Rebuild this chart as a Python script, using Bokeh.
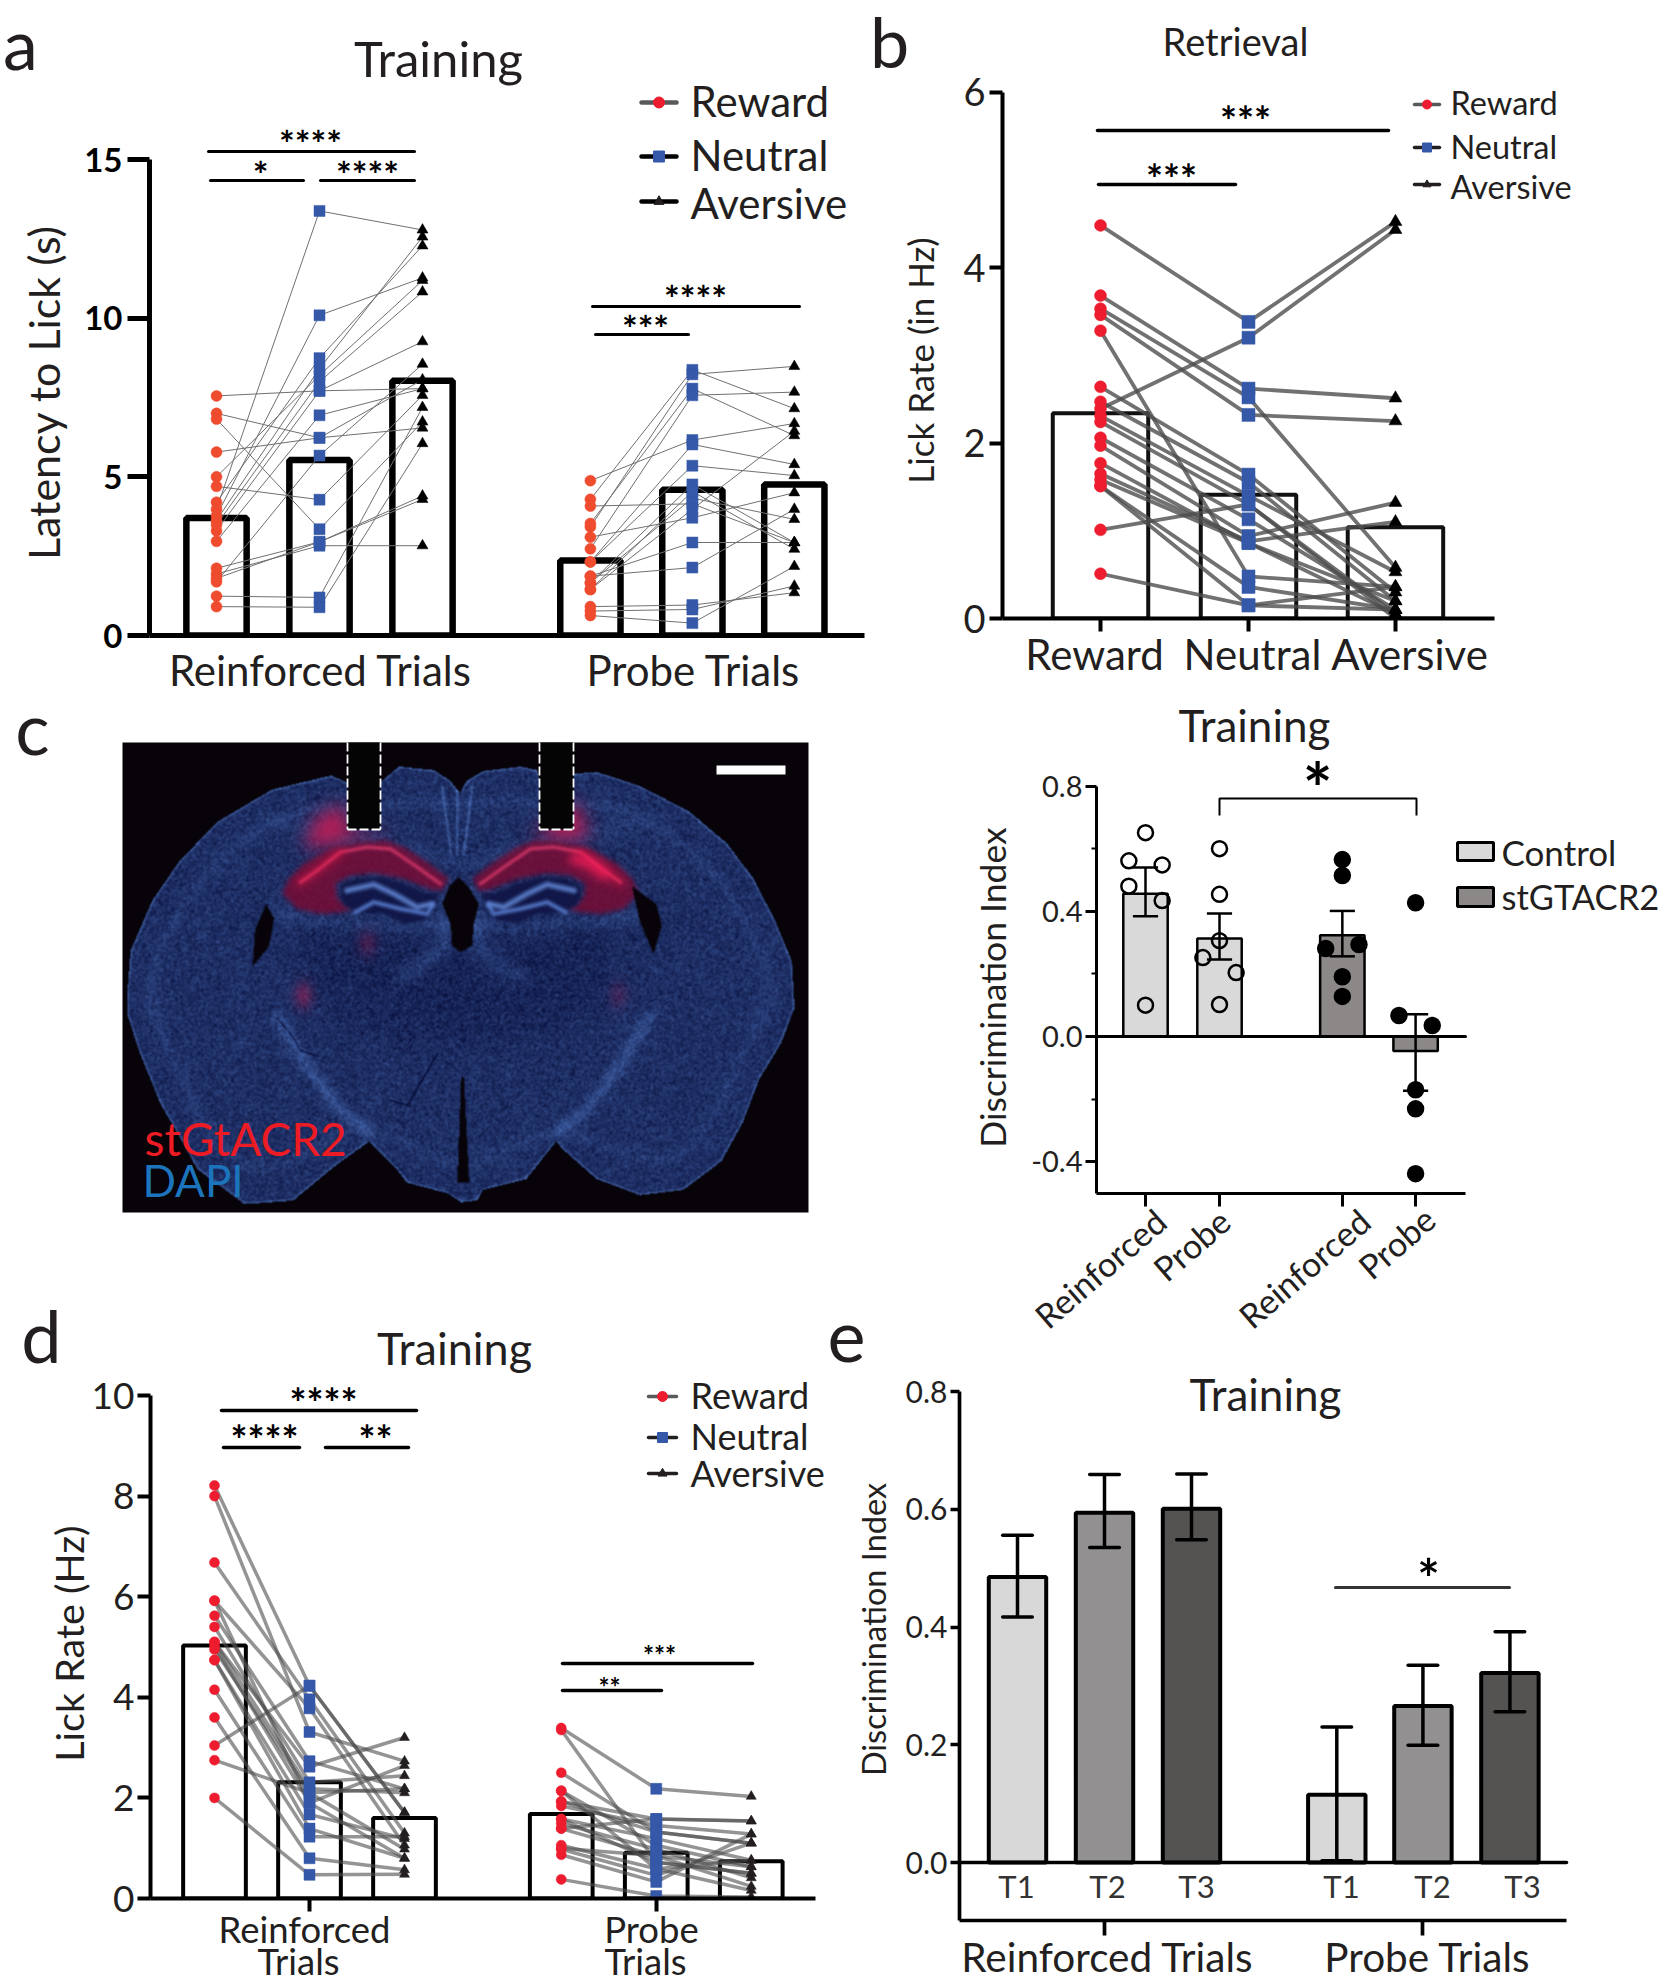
import numpy as np
from bokeh.plotting import figure
from bokeh.layouts import row, column
from bokeh.models import Range1d, Label, FixedTicker, NumeralTickFormatter, CustomJSTickFormatter
from bokeh.embed import file_html
from bokeh.resources import INLINE

FONT = "Lato"
INK = "#231f20"

# ---------- panel a: latency to lick
a_reinf_reward = [7.55,7.0,6.82,5.78,5.0,4.7,4.2,3.98,3.77,3.63,3.49,3.3,2.97,2.12,1.94,1.8,1.69,1.24,0.91]
a_reinf_neutral = [7.71,6.23,3.35,6.23,8.2,4.28,8.74,13.38,10.09,8.41,8.0,7.71,6.94,2.95,2.83,2.95,5.67,1.2,0.89]
a_reinf_aversive = [7.78,8.06,6.73,6.54,11.19,7.57,12.28,12.78,11.27,12.56,10.83,9.26,7.78,4.4,2.83,4.29,8.55,7.19,6.05]
a_probe_reward = [4.88,4.29,4.08,3.53,3.42,3.1,2.73,2.32,1.87,1.66,1.66,1.45,1.45,0.91,0.77,0.63,1.87,2.32]
a_probe_neutral = [6.16,8.37,4.15,7.78,8.23,3.71,7.57,6.02,2.14,4.76,4.33,4.54,3.98,0.96,0.82,0.39,2.93,5.35]
a_probe_aversive = [6.68,7.15,2.93,6.3,8.48,4.5,7.67,5.39,3.98,2.93,3.66,2.72,6.44,1.35,1.56,2.18,2.93,5.04]
a_means = [3.7,5.53,8.03,2.36,4.59,4.76]
a_ticks = [0,5,10,15]

# ---------- panel b: retrieval
b_reward = [4.48,3.68,3.53,3.46,3.28,2.64,2.47,2.39,2.31,2.24,2.06,1.97,1.77,1.65,1.58,1.51,1.51,1.01,0.51]
b_neutral = [3.38,2.62,2.52,2.32,0.48,1.64,1.55,3.2,1.4,1.3,1.13,0.94,0.86,0.88,0.86,0.36,0.15,1.3,0.15]
b_aversive = [4.52,2.51,0.58,2.25,0.36,0.3,0.2,4.43,0.53,0.05,0.1,1.32,0.05,1.1,0.2,0.1,0.36,0.0,0.1]
b_means = [2.34,1.41,1.04]
b_ticks = [0,2,4,6]
b_categories = ["Reward","Neutral","Aversive"]

# ---------- panel c (right): discrimination index
di_means = [0.456,0.313,0.323,-0.046]
di_err_hi = [0.54,0.393,0.401,0.071]
di_err_lo = [0.384,0.246,0.256,-0.173]
di_pts_1 = [0.651,0.561,0.548,0.48,0.434,0.10]
di_pts_2 = [0.60,0.454,0.306,0.252,0.204,0.102]
di_pts_3 = [0.565,0.514,0.281,0.294,0.191,0.128]
di_pts_4 = [0.427,0.067,0.035,-0.17,-0.231,-0.438]
di_off_1 = [0,-1,1,-1,1,0]
di_off_2 = [0,0,0,-1,1,0]
di_off_3 = [0,0,-1,1,0,0]
di_off_4 = [0,-1,1,0,0,0]
di_categories = ["Reinforced","Probe","Reinforced","Probe"]

# ---------- panel d: lick rate, training
d_reinf_reward = [8.21,8.0,6.68,5.92,5.62,5.4,5.1,5.02,4.95,4.74,4.74,4.15,3.6,3.04,2.75,2.0,5.1,5.92]
d_reinf_neutral = [4.23,3.31,3.96,3.78,2.73,2.31,2.18,1.9,2.1,1.67,1.39,1.23,0.8,4.23,2.1,0.47,2.62,1.9]
d_reinf_aversive = [1.71,2.73,1.3,1.06,2.18,2.44,2.1,2.64,0.98,1.19,0.8,1.23,0.57,1.71,2.18,0.48,3.2,0.8]
d_probe_reward = [3.39,3.35,2.5,2.14,1.93,1.84,1.58,1.49,1.39,1.06,0.98,0.87,0.38,1.58,2.14,1.93,1.0,1.39]
d_probe_neutral = [2.18,0.72,1.32,1.06,1.58,1.45,1.19,0.98,0.85,0.59,0.46,0.33,0.05,0.72,0.59,1.32,0.85,1.58]
d_probe_aversive = [2.03,0.5,1.1,0.63,1.54,1.28,0.76,0.41,0.24,0.16,1.1,1.28,0.03,0.5,0.76,1.1,0.63,1.54]
d_means = [5.03,2.31,1.6,1.68,0.91,0.74]
d_ticks = [0,2,4,6,8,10]

# ---------- panel e
e_means = [0.485,0.594,0.601,0.115,0.266,0.322]
e_err_hi = [0.556,0.659,0.66,0.23,0.335,0.392]
e_err_lo = [0.417,0.535,0.548,0.003,0.199,0.256]
e_trials = ["T1","T2","T3","T1","T2","T3"]
e_ticks = [0,0.2,0.4,0.6,0.8]

# ---------- section illustration, outlines
BRAIN_U = [848,860,890,960,990,1000,1060,1100,1180,1270,1340,1390,1430,1460,1465,1440,1400,1370,1330,1260,1180,1100,1040,1025,970,890,880,850,825,750,730,680,620,540,450,363,330,295,258,235,235,240,280,330,400,500,610,640,700,735,800,830]
BRAIN_V = [260,225,198,185,195,250,205,200,240,310,400,500,620,730,860,960,1060,1180,1290,1370,1385,1340,1260,1235,1340,1370,1400,1405,1380,1350,1310,1235,1300,1400,1410,1312,1220,1129,990,885,800,700,560,450,340,250,210,230,230,185,195,225]
LV_L_U = [490,470,465,495,505]
LV_L_V = [570,640,745,690,610]
LV_R_U = [1165,1180,1205,1220,1210]
LV_R_V = [520,620,710,630,570]
FISS_U = [850,843,865,855]
FISS_V = [1050,1350,1350,1055]
THAL_U = [570,650,760,850,960,1080,1130,1140,1060,950,850,720,610,560]
THAL_V = [640,610,640,700,640,600,660,800,900,950,950,950,880,760]
# hippocampal traces, left side; the right side is its mirror image
HIP_U = [65,85,130,210,300,380,430,500,565,545,520,430,340,270,225,230,250,280,240,180,110]
HIP_V = [340,295,250,205,185,180,200,245,295,330,330,295,278,285,310,350,375,385,395,400,385]
HILUS_U = [240,285,360,430,500,535,520,490,430,370,290,255,240]
HILUS_V = [315,295,290,310,340,340,385,420,430,400,395,375,345]
ARC_U = [120,170,240,320,390,470,540]
ARC_V = [305,270,215,200,205,260,310]
DG1_U = [260,340,400,470,515]
DG1_V = [330,312,340,380,370]
DG2_U = [285,340,420,500,515]
DG2_V = [395,365,385,400,375]
VENT_U = [595,565,545,570,575,600,635,640,655,625]
VENT_V = [290,320,370,430,495,515,495,430,370,320]
GLOW_L_U = [130,170,250,260,400,300,170]
GLOW_L_V = [200,110,70,150,155,170,200]
GLOW_R_U = [800,840,945,985,900]
GLOW_R_V = [150,150,60,170,180]
STRIPE_X = [277,310,340,367]
STRIPE_Y = [1017,1070,1110,1130]
CRACK_X = [277,293,300,318]
CRACK_Y = [1018,1037,1050,1056]
CRACK2_X = [390,407,437]
CRACK2_Y = [1100,1105,1053]
SPOT_X = [367,303,618]
SPOT_Y = [943,995,995]
SPOT_A = [0.25,0.4,0.2]


def section_image():
    yy, xx = np.mgrid[742:1212, 122:808] + 0.5

    def poly(px, py):
        px, py = np.asarray(px, float), np.asarray(py, float)
        inside = np.zeros(xx.shape, bool)
        for i in range(len(px)):
            x1, y1, x2, y2 = px[i], py[i], px[i - 1], py[i - 1]
            if y1 == y2:
                continue
            hit = ((y1 > yy) != (y2 > yy)) & (xx < (x2 - x1) * (yy - y1) / (y2 - y1) + x1)
            inside ^= hit
        return inside.astype(float)

    def stroke(px, py, w):
        best = np.full(xx.shape, 1e9)
        for i in range(len(px) - 1):
            dx, dy = px[i + 1] - px[i], py[i + 1] - py[i]
            t = np.clip(((xx - px[i]) * dx + (yy - py[i]) * dy) / (dx * dx + dy * dy), 0, 1)
            best = np.minimum(best, np.hypot(xx - px[i] - t * dx, yy - py[i] - t * dy))
        return np.clip(1 - best / w, 0, 1)

    fy = np.fft.fftfreq(xx.shape[0])[:, None]
    fx = np.fft.rfftfreq(xx.shape[1])[None, :]

    def blur(a, s):
        return np.fft.irfft2(np.fft.rfft2(a) * np.exp(-2 * (np.pi * s) ** 2 * (fx ** 2 + fy ** 2)), s=a.shape)

    z3x = lambda v: [u / 1.845 for u in v]
    z3y = lambda v: [700 + u / 2.8 for u in v]
    z1x = lambda v: [260 + u / 3 for u in v]
    z1y = lambda v: [780 + u / 3 for u in v]
    mir = lambda v: [1200 - u for u in v]

    brain = poly(z3x(BRAIN_U), z3y(BRAIN_V))
    grain = np.modf(np.abs(np.sin(xx * 12.9898 + yy * 78.233) * 43758.5453))[0]
    grain = blur(grain, 0.8)
    grain = (grain - grain.mean()) / grain.std()

    v = 0.20 + 0.055 * grain
    wide = blur(brain, 30)
    v += 0.07 * np.exp(-((wide - 0.82) / 0.05) ** 2)
    v += 0.5 * brain * np.clip(1 - blur(brain, 2.5) * 1.15, 0, 1) * 2
    v -= 0.08 * blur(poly(z3x(THAL_U), z3y(THAL_V)), 18)
    for sx in (STRIPE_X, [926 - x for x in STRIPE_X]):
        v += 0.28 * blur(stroke(sx, STRIPE_Y, 9), 3)
    v += 0.22 * blur(stroke(z1x([575, 545, 480, 420]), z1y([345, 500, 560, 590]), 10), 5)
    v += 0.22 * blur(stroke(z1x([625, 655, 720, 780]), z1y([345, 500, 560, 590]), 10), 5)
    for cx, cy in ((CRACK_X, CRACK_Y), (CRACK2_X, CRACK2_Y)):
        v -= 0.3 * stroke(cx, cy, 1.6)
    for ux in ([590, 590], [545, 572], [635, 610]):
        v += 0.3 * stroke(z1x(ux), z1y([20, 220]), 2.5)
    for sign in (0, 1):
        f = mir if sign else (lambda q: q)
        v += 0.16 * blur(stroke(z1x(f([40, 150, 300, 480, 560])), z1y([400, 420, 430, 440, 430]), 8), 4)
    v += 0.12 * blur(stroke(z1x([0, 250, 480, 600, 720, 950, 1200]), z1y([110, 170, 215, 250, 215, 170, 110]), 7), 5)

    v = np.clip(v, 0, 1)
    dark = np.array([12, 20, 66.0])
    bright = np.array([104, 155, 240.0])
    img = dark + v[..., None] * (bright - dark)

    def tint(alpha, color):
        nonlocal img
        a = np.clip(alpha, 0, 1)[..., None]
        img = img * (1 - a) + np.array(color, float) * a

    for gu, gv in ((GLOW_L_U, GLOW_L_V), (GLOW_R_U, GLOW_R_V)):
        tint(0.95 * blur(poly(z1x(gu), z1y(gv)), 9), (195, 28, 85))
    for sx, sy, sa in zip(SPOT_X, SPOT_Y, SPOT_A):
        tint(sa * np.exp(-((xx - sx) ** 2 + ((yy - sy) / 1.4) ** 2) / 90), (205, 30, 80))
    for f in ((lambda q: q), mir):
        tint(0.8 * blur(poly(z1x(f(HIP_U)), z1y(HIP_V)), 2.5), (125, 10, 50))
        tint(0.85 * blur(poly(z1x(f(HILUS_U)), z1y(HILUS_V)), 1.5), (15, 20, 68))
        tint(0.7 * blur(stroke(z1x(f(ARC_U)), z1y(ARC_V), 3), 1), (255, 70, 120))
        tint(0.5 * blur(stroke(z1x(f(ARC_U[:3])), z1y(ARC_V[:3]), 8), 3.5), (240, 20, 70))
        tint(0.85 * blur(stroke(z1x(f(DG1_U)), z1y(DG1_V), 5), 0.8), (105, 145, 225))
        tint(0.85 * blur(stroke(z1x(f(DG2_U)), z1y(DG2_V), 4), 0.8), (95, 135, 220))
    tint(0.9 * blur(stroke(z1x([945, 990, 1030]), z1y([235, 250, 280]), 10), 4), (250, 30, 90))

    holes = (poly(z1x(VENT_U), z1y(VENT_V)) + poly(z3x(LV_L_U), z3y(LV_L_V))
             + poly(z3x(LV_R_U), z3y(LV_R_V)) + poly(z3x(FISS_U), z3y(FISS_V)))
    outside = 1 - blur(brain, 0.7) * (1 - blur(np.clip(holes, 0, 1), 0.7))
    tint(outside, (7, 3, 9))

    out = np.zeros(xx.shape, dtype=np.uint32)
    view = out.view(np.uint8).reshape(xx.shape + (4,))
    view[..., :3] = np.clip(img, 0, 255).astype(np.uint8)
    view[..., 3] = 255
    return out


# Text layer: one transparent figure over the whole page, in page pixels
overlay = figure(width=1658, height=1980, output_backend="svg", toolbar_location=None,
                 x_range=Range1d(0, 1658), y_range=Range1d(1980, 0),
                 x_axis_type=None, y_axis_type=None, outline_line_color=None,
                 min_border_left=0, min_border_right=0, min_border_top=0, min_border_bottom=0,
                 background_fill_color=None, border_fill_color=None, frame_align=False,
                 styles={"position": "absolute", "left": "0px", "top": "0px"})
overlay.grid.visible = False


class Panel:
    def __init__(self, box, frame, xmap, ymap):
        x0, y0, x1, y1 = box
        fl, ft, fr, fb = frame
        self.xm, self.ym = xmap, ymap
        self.fig = figure(
            width=x1 - x0, height=y1 - y0, output_backend="svg", toolbar_location=None,
            x_range=Range1d(self.X(fl), self.X(fr)), y_range=Range1d(self.Y(fb), self.Y(ft)),
            min_border_left=fl - x0, min_border_right=x1 - fr,
            min_border_top=ft - y0, min_border_bottom=y1 - fb,
            outline_line_color=None, frame_align=False,
        )
        self.fig.grid.visible = False

    def X(self, px):
        a, va, b, vb = self.xm
        return va + (px - a) * (vb - va) / (b - a)

    def Y(self, py):
        a, va, b, vb = self.ym
        return va + (py - a) * (vb - va) / (b - a)

    def text(self, px, py, t, size, color=INK, align="center", base="middle", style="normal", angle=0):
        if base == "middle" and angle == 0:
            py -= 2
        if angle == 90:
            px -= 2
        overlay.add_layout(Label(
            x=px, y=py, text=t, text_font=FONT, text_font_size=f"{size}px",
            text_color=color, text_align=align, text_baseline=base, text_font_style=style,
            angle=angle, angle_units="deg"))

    def hline(self, x0, x1, py, width=3, color="black"):
        self.fig.line([self.X(x0), self.X(x1)], [self.Y(py), self.Y(py)], line_color=color,
                      line_width=width, line_cap="round")

    def stars(self, px, py, t, size):
        self.text(px, py + 2 + 0.17 * size, t, size, color="black", style="bold")

    def legend(self, lx0, lx1, py, lc, lw, marker, mc, ms, label, tx, fs, dy=0):
        self.hline(lx0, lx1, py, width=lw, color=lc)
        self.fig.scatter([self.X((lx0 + lx1) / 2)], [self.Y(py)], marker=marker, size=ms,
                         fill_color=mc, line_color=mc)
        self.text(tx, py + dy, label, fs, align="left")


def style_axes(p, lw, tick_len, fs, yticks, y_bounds, x_bounds, xticks=None, bold=False, fmt=None, minor=None, xtick_len=0, standoff=5):
    yax, xax = p.fig.yaxis[0], p.fig.xaxis[0]
    yax.ticker = FixedTicker(ticks=yticks, minor_ticks=minor or [])
    yax.bounds = y_bounds
    xax.bounds = x_bounds
    xax.ticker = FixedTicker(ticks=xticks or [], minor_ticks=[])
    xax.formatter = CustomJSTickFormatter(code="return ''")
    for ax in (xax, yax):
        ax.axis_line_width = lw
        ax.axis_line_color = "black"
        ax.major_tick_line_width = lw
        ax.major_tick_line_color = "black"
        ax.major_tick_in = 0
        ax.minor_tick_in = 0
        ax.minor_tick_line_width = max(lw - 1, 1)
        ax.minor_tick_line_color = "black"
    yax.major_tick_out = tick_len
    yax.minor_tick_out = 5 if minor else 0
    xax.major_tick_out = xtick_len
    xax.minor_tick_out = 0
    yax.major_label_text_font = FONT
    yax.major_label_text_font_size = f"{fs}px"
    yax.major_label_text_color = "black" if bold else INK
    yax.major_label_text_font_style = "bold" if bold else "normal"
    yax.major_label_standoff = standoff
    if fmt:
        yax.formatter = NumeralTickFormatter(format=fmt)


def paired(p, xs, series, lw, color, alpha):
    n = len(series[0])
    p.fig.multi_line([xs for _ in range(n)], [[s[i] for s in series] for i in range(n)],
                     line_width=lw, line_color=color, line_alpha=alpha)


def markers(p, xs, series, sizes, colors):
    kinds = ["circle", "square", "triangle"]
    for x, s, k, sz, c in zip(xs, series, kinds, sizes, colors):
        p.fig.scatter([x] * len(s), s, marker=k, size=sz, fill_color=c, line_color=c, line_width=0.5)


RED_O, RED, BLUE, BLK = "#EF4B2F", "#ED1C2E", "#3558A8", "#000000"

# ---------------- panel a
A = Panel((0, 0, 866, 700), (149, 0, 865, 635), (216, 1, 319, 2), (635, 0, 159, 15))
ax_pos = [1, 2, 3]
ax_pos2 = [4.63, 5.62, 6.61]
style_axes(A, 5, 22, 33, a_ticks, (0, 15), (A.X(149), A.X(864)), bold=True, standoff=5)
A.fig.vbar(ax_pos + ax_pos2, top=a_means, width=0.585, bottom=0, fill_color="white", line_color="black", line_width=6.5)
paired(A, ax_pos, [a_reinf_reward, a_reinf_neutral, a_reinf_aversive], 1, "#707070", 1)
paired(A, ax_pos2, [a_probe_reward, a_probe_neutral, a_probe_aversive], 1, "#707070", 1)
markers(A, ax_pos, [a_reinf_reward, a_reinf_neutral, a_reinf_aversive], (11, 11, 11), (RED_O, BLUE, BLK))
markers(A, ax_pos2, [a_probe_reward, a_probe_neutral, a_probe_aversive], (11, 11, 11), (RED_O, BLUE, BLK))
A.text(20, 42, "a", 70, base="alphabetic")
A.text(438, 59, "Training", 49)
A.text(320, 671, "Reinforced Trials", 42)
A.text(693, 671, "Probe Trials", 42)
A.text(45, 392, "Latency to Lick (s)", 43, angle=90)
A.legend(641, 676, 102, "#58595b", 4.5, "circle", RED, 11, "Reward", 690, 42)
A.legend(641, 676, 156, "black", 4.5, "square", BLUE, 11, "Neutral", 690, 42)
A.legend(641, 676, 201, "black", 4.5, "triangle", "#231f20", 10, "Aversive", 690, 42, dy=3)
for x0, x1, y in [(208, 414, 151), (210, 303, 180), (320, 414, 180), (592, 799, 306), (595, 688, 334)]:
    A.hline(x0, x1, y, 3)
for x, y, t in [(310, 136, "****"), (260, 167, "*"), (367, 167, "****"), (695, 291, "****"), (645, 321, "***")]:
    A.stars(x, y, t, 37)

# ---------------- panel b
B = Panel((866, 0, 1658, 690), (1002, 0, 1657, 618), (1100, 1, 1248, 2), (618, 0, 91.5, 6))
bx = [1, 2, 2.993]
style_axes(B, 4, 13, 38, b_ticks, (0, 6), (B.X(1002), B.X(1494)), xticks=bx, xtick_len=13, standoff=4)
B.fig.vbar(bx, top=b_means, width=0.645, bottom=0, fill_color="white", line_color="#111111", line_width=4)
paired(B, bx, [b_reward, b_neutral, b_aversive], 3.8, "#4d4d4d", 0.8)
markers(B, bx, [b_reward, b_neutral, b_aversive], (12, 13, 13), (RED, BLUE, BLK))
B.text(889, 40, "b", 70, base="alphabetic")
B.text(1235, 42, "Retrieval", 38)
for cx, lab in zip([1094, 1252, 1409], b_categories):
    B.text(cx, 655, lab, 42)
B.text(921, 360, "Lick Rate (in Hz)", 35, angle=90)
B.legend(1414, 1439, 104, "#58595b", 3.5, "circle", RED, 9, "Reward", 1450, 32.5)
B.legend(1414, 1439, 147, "#231f20", 3.5, "square", BLUE, 9, "Neutral", 1450, 32.5, dy=1)
B.legend(1414, 1439, 184, "#231f20", 3.5, "triangle", "#231f20", 8, "Aversive", 1450, 32.5, dy=4)
B.hline(1097, 1388, 130, 3.5)
B.hline(1098, 1235, 184, 3.5)
B.stars(1245, 114, "***", 40)
B.stars(1171, 172, "***", 40)

# ---------------- panel c, section image
C = Panel((0, 700, 866, 1290), (0, 700, 866, 1290), (0, 0, 866, 866), (700, 700, 1290, 1290))
C.fig.xaxis.visible = False
C.fig.yaxis.visible = False
C.fig.image_rgba(image=[section_image()], x=122, y=742, dw=686, dh=470)
for l, r in [(347, 380), (539, 573)]:
    C.fig.quad(left=[l], right=[r], top=[742], bottom=[829], fill_color="#040404", line_color=None)
    C.fig.multi_line([[l, l], [r, r], [l, r]], [[742, 829], [742, 829], [829, 829]], line_color="white", line_width=1.8, line_dash="9 3")
C.fig.quad(left=[716], right=[785], top=[765], bottom=[774], fill_color="white", line_color=None)
C.text(32, 726, "c", 72, base="alphabetic")
C.text(144, 1138, "stGtACR2", 46, color="#ED1C24", align="left", base="alphabetic")
C.text(142, 1179, "DAPI", 44, color="#1C75BC", align="left", base="alphabetic")

# ---------------- right-hand discrimination chart
G = Panel((866, 690, 1658, 1340), (1096, 690, 1657, 1193), (1145, 1, 1219, 2), (1036, 0, 785.5, 0.8))
gx = [1, 2, 3.66, 4.65]
style_axes(G, 3, 11, 29, [-0.4, 0, 0.4, 0.8], (G.Y(1193), 0.8), (G.X(1096), G.X(1465)), xticks=gx, xtick_len=13, fmt="0.0", minor=[-0.2, 0.2, 0.6], standoff=3)
G.fig.vbar(gx, top=di_means, width=0.6, bottom=0, fill_color=["#D9D9D9", "#D9D9D9", "#8C8888", "#8C8888"], line_color="black", line_width=2.5)
G.hline(1096, 1465, 1036, 3)
G.fig.segment(gx, di_err_lo, gx, di_err_hi, line_color="black", line_width=2.5)
capw = 0.17
G.fig.segment([x - capw for x in gx], di_err_hi, [x + capw for x in gx], di_err_hi, line_color="black", line_width=2.5)
G.fig.segment([x - capw for x in gx], di_err_lo, [x + capw for x in gx], di_err_lo, line_color="black", line_width=2.5)
shift = 0.225
for cx, pts, offs, fc in zip(gx, [di_pts_1, di_pts_2, di_pts_3, di_pts_4], [di_off_1, di_off_2, di_off_3, di_off_4], [None, None, "black", "black"]):
    G.fig.scatter([cx + o * shift for o in offs], pts, marker="circle", size=15, fill_color=fc, line_color="black", line_width=2.5)
G.text(1254, 726, "Training", 44)
G.text(994, 987, "Discrimination Index", 35.5, angle=90)
for px, py, lab in zip([1160, 1224, 1364, 1429], [1215, 1215, 1215, 1213], di_categories):
    G.text(px, py, lab, 34, align="right", angle=41)
G.fig.line([G.X(1219), G.X(1219), G.X(1416), G.X(1416)], [G.Y(815), G.Y(798), G.Y(798), G.Y(815)], line_color="black", line_width=2)
G.stars(1317, 776, "*", 70)
G.fig.quad(left=[G.X(1457)], right=[G.X(1493)], top=[G.Y(842)], bottom=[G.Y(860)], fill_color="#D9D9D9", line_color="black", line_width=3)
G.fig.quad(left=[G.X(1457)], right=[G.X(1493)], top=[G.Y(887)], bottom=[G.Y(906)], fill_color="#8C8888", line_color="black", line_width=3)
G.text(1501, 853, "Control", 35, align="left")
G.text(1501, 898, "stGTACR2", 34.5, align="left")

# ---------------- panel d
D = Panel((0, 1290, 866, 1980), (150, 1290, 865, 1898), (214, 1, 309, 2), (1898, 0, 1395, 10))
dx1 = [1, 2, 3]
dx2 = [4.65, 5.65, 6.65]
style_axes(D, 4, 13, 37, d_ticks, (0, 10), (D.X(150), D.X(815)), xticks=[2, 5.65], xtick_len=13, standoff=3)
D.fig.vbar(dx1 + dx2, top=d_means, width=0.66, bottom=0, fill_color="white", line_color="black", line_width=4)
paired(D, dx1, [d_reinf_reward, d_reinf_neutral, d_reinf_aversive], 3.5, "#4d4d4d", 0.6)
paired(D, dx2, [d_probe_reward, d_probe_neutral, d_probe_aversive], 3.5, "#4d4d4d", 0.6)
markers(D, dx1, [d_reinf_reward, d_reinf_neutral, d_reinf_aversive], (10, 11, 10), (RED, BLUE, "#231f20"))
markers(D, dx2, [d_probe_reward, d_probe_neutral, d_probe_aversive], (10, 11, 10), (RED, BLUE, "#231f20"))
D.text(41, 1334, "d", 72, base="alphabetic")
D.text(846, 1335, "e", 72, base="alphabetic")
D.text(454, 1349, "Training", 45)
D.text(304, 1930, "Reinforced", 36.5)
D.text(298, 1962, "Trials", 36.5)
D.text(651, 1930, "Probe", 36.5)
D.text(645, 1962, "Trials", 36.5)
D.text(70, 1643, "Lick Rate (Hz)", 39.5, angle=90)
D.legend(648, 676, 1396, "#58595b", 3.5, "circle", RED, 10, "Reward", 690, 36)
D.legend(648, 676, 1437, "#231f20", 3.5, "square", BLUE, 10, "Neutral", 690, 36)
D.legend(648, 676, 1473, "#231f20", 3.5, "triangle", "#231f20", 9, "Aversive", 690, 36, dy=1)
for x0, x1, y in [(221, 416, 1410), (223, 299, 1447), (325, 408, 1447), (562, 752, 1663), (562, 661, 1690)]:
    D.hline(x0, x1, y, 3.5)
for x, y, t, s in [(323, 1396, "****", 40), (264, 1433, "****", 40), (375, 1433, "**", 40), (659, 1650, "***", 26), (609, 1682, "**", 26)]:
    D.stars(x, y, t, s)

# ---------------- panel e
E = Panel((866, 1340, 1658, 1980), (959, 1340, 1657, 1920), (1017, 1, 1104, 2), (1862, 0, 1391, 0.8))
ex = [1, 2, 3, 4.67, 5.66, 6.66]
style_axes(E, 3.7, 9, 30, e_ticks, (E.Y(1920), 0.8), (E.X(959), E.X(1566)), xticks=[2, 5.66], xtick_len=15, fmt="0.0", standoff=3)
E.fig.vbar(ex, top=e_means, width=0.66, bottom=0, fill_color=["#D9D8D9", "#929091", "#545352"] * 2, line_color="black", line_width=4)
E.hline(959, 1566, 1862, 3.5)
E.fig.segment(ex, e_err_lo, ex, e_err_hi, line_color="black", line_width=3.5)
cap = 0.17
E.fig.segment([x - cap for x in ex], e_err_hi, [x + cap for x in ex], e_err_hi, line_color="black", line_width=3.5, line_cap="round")
E.fig.segment([x - cap for x in ex], e_err_lo, [x + cap for x in ex], e_err_lo, line_color="black", line_width=3.5, line_cap="round")
E.text(1265, 1395, "Training", 44)
E.text(875, 1629, "Discrimination Index", 32.5, angle=90)
for px, lab in zip([1016, 1107, 1196, 1341, 1432, 1522], e_trials):
    E.text(px, 1887, lab, 31, color="#333333")
E.text(1107, 1958, "Reinforced Trials", 40.5)
E.text(1427, 1958, "Probe Trials", 40.5)
E.hline(1335, 1509, 1587, 3, color="#333333")
E.stars(1428, 1569, "*", 53)

layout = row(column(A.fig, C.fig, D.fig), column(B.fig, G.fig, E.fig))
open("out.html", "w").write(file_html((layout, overlay), INLINE))
